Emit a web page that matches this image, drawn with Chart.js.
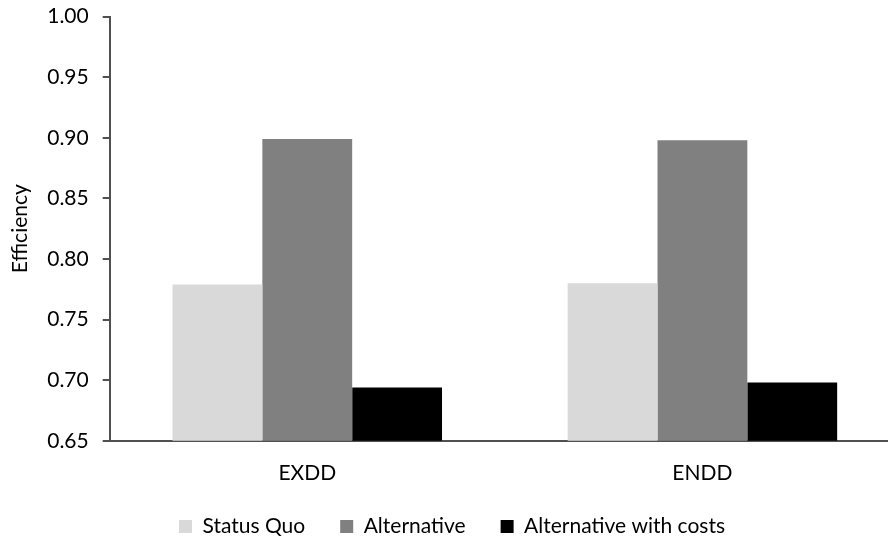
<!DOCTYPE html>
<html>
<head>
<meta charset="utf-8">
<script src="https://cdn.jsdelivr.net/npm/chart.js@4/dist/chart.umd.min.js"></script>
<style>
  html, body { margin: 0; padding: 0; background: #ffffff; overflow: hidden; }
  #wrap { position: relative; width: 888px; height: 537px; overflow: hidden; }
  #c { position: absolute; left: 0; top: -10px; }
</style>
</head>
<body>
<div id="wrap"><canvas id="c" width="900" height="561"></canvas></div>
<script>
const categories = ['EXDD', 'ENDD'];
const seriesNames = ['Status Quo', 'Alternative', 'Alternative with costs'];
const statusQuo = [0.779, 0.780];
const alternative = [0.899, 0.898];
const alternativeWithCosts = [0.694, 0.698];
const yTicks = [0.65, 0.70, 0.75, 0.80, 0.85, 0.90, 0.95, 1.00];
const yTitle = 'Efficiency';

const FONT = 'Lato, "Open Sans", sans-serif';
const FS = 21;
const axisColor = '#505050';

new Chart(document.getElementById('c'), {
  type: 'bar',
  data: {
    labels: categories,
    datasets: [
      { label: seriesNames[0], data: statusQuo, backgroundColor: '#d9d9d9' },
      { label: seriesNames[1], data: alternative, backgroundColor: '#808080' },
      { label: seriesNames[2], data: alternativeWithCosts, backgroundColor: '#000000' }
    ]
  },
  options: {
    responsive: false,
    animation: false,
    devicePixelRatio: 1,
    layout: { padding: { top: 5.5, left: 4, right: 0, bottom: 4 } },
    datasets: { bar: { categoryPercentage: 0.682, barPercentage: 1.0, borderWidth: 0 } },
    scales: {
      x: {
        grid: { display: false, drawTicks: false },
        border: { display: true, color: axisColor, width: 2 },
        ticks: { color: '#000', font: { family: FONT, size: FS }, padding: 20 },
        afterFit: (s) => { s.height -= 25; }
      },
      y: {
        min: 0.65,
        max: 1.00,
        afterBuildTicks: (s) => { s.ticks = yTicks.map(v => ({ value: v })); },
        grid: { drawOnChartArea: false, drawTicks: true, tickLength: 7, color: axisColor, lineWidth: 2 },
        border: { display: true, color: axisColor, width: 2 },
        ticks: {
          color: '#000', font: { family: FONT, size: FS }, padding: 14,
          callback: (v) => Number(v).toFixed(2)
        },
        title: { display: true, text: yTitle, color: '#000', font: { family: FONT, size: FS }, padding: { top: 4, bottom: 0 } }
      }
    },
    plugins: {
      tooltip: { enabled: false },
      legend: {
        position: 'bottom',
        labels: {
          color: '#000',
          font: { family: FONT, size: FS },
          boxWidth: 13,
          boxHeight: 13,
          padding: 35
        }
      }
    }
  }
});
</script>
</body>
</html>
